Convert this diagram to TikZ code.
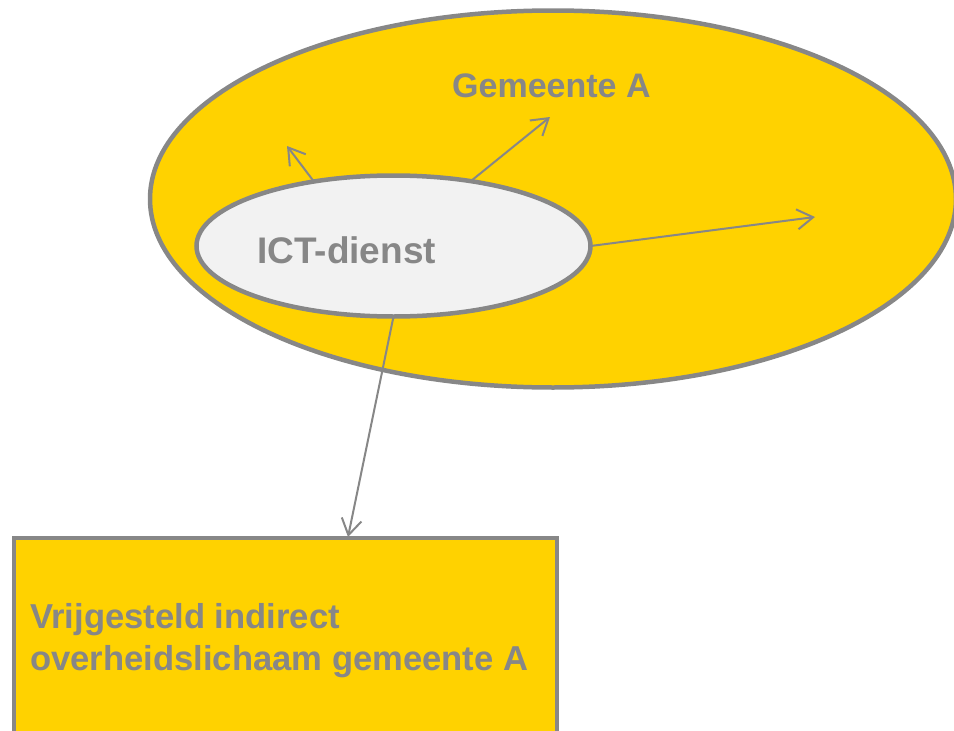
\documentclass[tikz,border=0pt]{standalone}
\usepackage{fontspec}
\setmainfont{Liberation Sans}
\usetikzlibrary{shapes.geometric,arrows.meta}
\definecolor{geel}{HTML}{FFD200}
\definecolor{grijs}{HTML}{878787}
\definecolor{licht}{HTML}{F2F2F2}

\begin{document}
\begin{tikzpicture}[x=1pt,y=-1pt,
  rand/.style={draw=grijs, line width=4.5pt, inner sep=0pt, outer sep=0pt},
  pijl/.style={draw=grijs, line width=2pt,
    -{Straight Barb[length=16pt,width=20pt,line width=2pt]}},
  tekst/.style={text=grijs, inner sep=0pt, anchor=base west,
    font=\bfseries\fontsize{34}{42}\selectfont}]
\useasboundingbox (0,0) rectangle (954,731);
\clip (0,0) rectangle (954,731);

% outer organisation and the service inside it
\node[rand, ellipse, fill=geel, minimum width=806, minimum height=377] (gem) at (553,199) {};
\node[rand, ellipse, fill=licht, minimum width=394, minimum height=141] (ict) at (393.5,246) {};

% exempt body below
\node[rand, rectangle, fill=geel, anchor=north west, minimum width=543, minimum height=300] (box) at (14,538) {};

% labels
\node[tekst] (lgem) at (452,97) {Gemeente A};
\node[tekst, font=\bfseries\fontsize{37}{42}\selectfont] (lict) at (257,263) {ICT-dienst};
\node[tekst, align=left, anchor=north west, font=\bfseries\fontsize{34.6}{42}\selectfont] (lbox) at (30,603)
  {Vrijgesteld indirect\\overheidslichaam gemeente A};

% free ends of the arrows
\coordinate (p1) at (287,146);
\coordinate (p2) at (550,117);
\coordinate (p3) at (815,217);
\coordinate (p4) at (348,537);

\draw[pijl] (ict.141) -- (p1);
\draw[pijl] (ict.40) -- (p2);
\draw[pijl] (ict.east) -- (p3);
\draw[pijl] (ict.south) -- (p4);
\end{tikzpicture}
\end{document}
